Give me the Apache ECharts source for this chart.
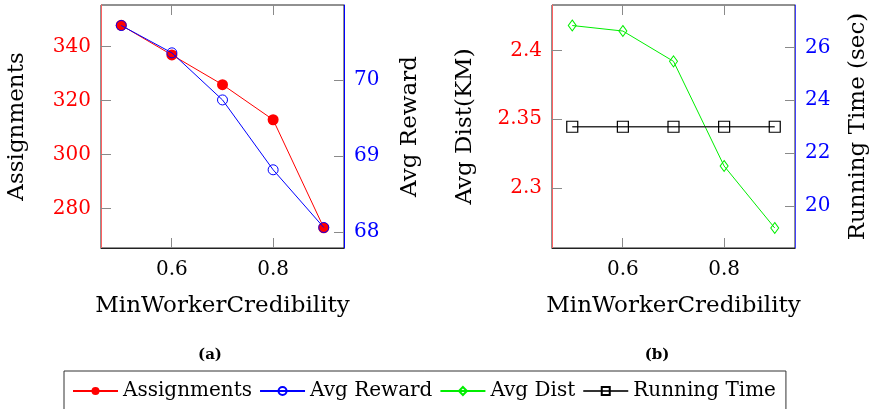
<!DOCTYPE html>
<html>
<head>
<meta charset="utf-8">
<script src="https://cdn.jsdelivr.net/npm/echarts@6/dist/echarts.min.js"></script>
<style>
html,body{margin:0;padding:0;background:#fff;}
#chart{width:878px;height:409px;}
</style>
</head>
<body>
<div id="chart"></div>
<script>
// ---- data ----
const xValues = [0.5, 0.6, 0.7, 0.8, 0.9];
const assignments = [348, 337, 326, 313, 273];
const avgReward = [70.72, 70.36, 69.74, 68.82, 68.06];
const avgDist = [2.418, 2.414, 2.392, 2.316, 2.271];
const runningTime = [23, 23, 23, 23, 23];

const xTicks = [0.6, 0.8];
const assignTicks = [280, 300, 320, 340];
const rewardTicks = [68, 69, 70];
const distTicks = [2.3, 2.35, 2.4];
const timeTicks = [20, 22, 24, 26];

const seriesNames = ['Assignments', 'Avg Reward', 'Avg Dist', 'Running Time'];
const xTitle = 'MinWorkerCredibility';
const subCaptions = ['(a)', '(b)'];

// ---- styling helpers ----
const FONT = 'DejaVu Serif';
const tickColor = '#8a8a8a';
const TICK_LEN = 10;
function pairs(ys) { return xValues.map((x, i) => [x, ys[i]]); }

function xAxisBottom(gridIndex) {
  return {
    type: 'value', gridIndex, position: 'bottom', min: 0.46, max: 0.94,
    name: xTitle, nameLocation: 'middle', nameGap: 47,
    nameTextStyle: { fontFamily: FONT, fontSize: 23, color: '#000' },
    axisLine: { show: true, onZero: false, lineStyle: { color: '#222', width: 1 } },
    axisTick: { show: false },
    axisLabel: { customValues: xTicks, fontFamily: FONT, fontSize: 20, color: '#000', margin: 12,
      formatter: v => String(v) },
    splitLine: { show: false }
  };
}
function yAxis(gridIndex, position, min, max, ticks, color, lineColor, name, nameGap) {
  return {
    type: 'value', gridIndex, position, min, max,
    name, nameLocation: 'middle', nameRotate: 90, nameGap,
    nameTextStyle: { fontFamily: FONT, fontSize: 23, color: '#000' },
    axisLine: { show: true, onZero: false, lineStyle: { color: lineColor, width: 1 } },
    axisTick: { show: false },
    axisLabel: { customValues: ticks, fontFamily: FONT, fontSize: 20, color, margin: 10, formatter: v => String(v) },
    splitLine: { show: false }
  };
}

const option = {
  animation: false,
  backgroundColor: '#fff',
  grid: [
    { left: 101, top: 5, width: 243, height: 243, show: true, borderColor: '#222', borderWidth: 1, backgroundColor: 'rgba(0,0,0,0)' },
    { left: 552, top: 5, width: 243, height: 243, show: true, borderColor: '#222', borderWidth: 1, backgroundColor: 'rgba(0,0,0,0)' }
  ],
  xAxis: [xAxisBottom(0), xAxisBottom(1)],
  yAxis: [
    yAxis(0, 'left', 265.5, 355.5, assignTicks, '#ff0000', '#ff6060', 'Assignments', 72),
    yAxis(0, 'right', 67.79, 70.99, rewardTicks, '#0000ff', '#0000ff', 'Avg Reward', 55),
    yAxis(1, 'left', 2.2565, 2.4329, distTicks, '#ff0000', '#ff6060', 'Avg Dist(KM)', 75),
    yAxis(1, 'right', 18.42, 27.6, timeTicks, '#0000ff', '#4040ff', 'Running Time (sec)', 52)
  ],
  legend: {
    data: seriesNames,
    left: 64, top: 371,
    padding: [10, 10, 10, 8],
    itemWidth: 45, itemHeight: 10, itemGap: 7,
    borderColor: '#333', borderWidth: 1,
    textStyle: { fontFamily: FONT, fontSize: 20, color: '#000' }
  },
  graphic: [
    { type: 'text', x: 210, y: 355, style: { text: subCaptions[0], fontSize: 15, fontWeight: 'bold', fontFamily: FONT, align: 'center', verticalAlign: 'middle', fill: '#000' } },
    { type: 'text', x: 657, y: 355, style: { text: subCaptions[1], fontSize: 15, fontWeight: 'bold', fontFamily: FONT, align: 'center', verticalAlign: 'middle', fill: '#000' } }
  ],
  series: [
    {
      name: seriesNames[0], type: 'line', xAxisIndex: 0, yAxisIndex: 0,
      data: pairs(assignments), symbol: 'circle', symbolSize: 11,
      lineStyle: { color: '#ff0000', width: 1 },
      itemStyle: { color: '#ff0000' },
      emphasis: { disabled: true }, z: 6
    },
    {
      name: seriesNames[1], type: 'line', xAxisIndex: 0, yAxisIndex: 1,
      data: pairs(avgReward), symbol: 'circle', symbolSize: 10,
      lineStyle: { color: '#0000ff', width: 1 },
      itemStyle: { color: 'rgba(0,0,0,0)', borderColor: '#0000ff', borderWidth: 1 },
      emphasis: { disabled: true }, z: 7
    },
    {
      name: seriesNames[2], type: 'line', xAxisIndex: 1, yAxisIndex: 2,
      data: pairs(avgDist), symbol: 'diamond', symbolSize: [8, 11],
      lineStyle: { color: '#00ee00', width: 1 },
      itemStyle: { color: 'rgba(0,0,0,0)', borderColor: '#00ee00', borderWidth: 1 },
      emphasis: { disabled: true }, z: 6
    },
    {
      name: seriesNames[3], type: 'line', xAxisIndex: 1, yAxisIndex: 3,
      data: pairs(runningTime), symbol: 'rect', symbolSize: 11,
      lineStyle: { color: '#333', width: 1.4 },
      itemStyle: { color: 'rgba(0,0,0,0)', borderColor: '#000', borderWidth: 1.2 },
      emphasis: { disabled: true }, z: 7
    }
  ]
};

const chart = echarts.init(document.getElementById('chart'), null, { renderer: 'canvas' });
chart.setOption(option);

// ---- inward tick marks, positioned through the axes' own scales ----
const tickGraphics = option.graphic.slice();
const panels = [
  { xa: 0, yl: 0, yr: 1, lt: assignTicks, rt: rewardTicks },
  { xa: 1, yl: 2, yr: 3, lt: distTicks, rt: timeTicks }
];
function tickRect(x, y, w, h) {
  return { type: 'rect', silent: true, z: 50, shape: { x, y, width: w, height: h }, style: { fill: tickColor } };
}
panels.forEach(p => {
  const xo = option.xAxis[p.xa], yo = option.yAxis[p.yl];
  const lb = chart.convertToPixel({ xAxisIndex: p.xa, yAxisIndex: p.yl }, [xo.min, yo.min]);
  const rt = chart.convertToPixel({ xAxisIndex: p.xa, yAxisIndex: p.yl }, [xo.max, yo.max]);
  const left = lb[0], bottom = lb[1], right = rt[0], top = rt[1];
  xTicks.forEach(v => {
    const px = Math.round(chart.convertToPixel({ xAxisIndex: p.xa, yAxisIndex: p.yl }, [v, yo.min])[0] - 0.5);
    tickRect && tickGraphics.push(tickRect(px, bottom - TICK_LEN, 1, TICK_LEN));
    tickGraphics.push(tickRect(px, top, 1, TICK_LEN));
  });
  p.lt.forEach(v => {
    const py = Math.round(chart.convertToPixel({ xAxisIndex: p.xa, yAxisIndex: p.yl }, [xo.min, v])[1] - 0.5);
    tickGraphics.push(tickRect(left, py, TICK_LEN, 1));
  });
  p.rt.forEach(v => {
    const py = Math.round(chart.convertToPixel({ xAxisIndex: p.xa, yAxisIndex: p.yr }, [xo.min, v])[1] - 0.5);
    tickGraphics.push(tickRect(right - TICK_LEN, py, TICK_LEN, 1));
  });
});
chart.setOption({ graphic: tickGraphics });
</script>
</body>
</html>
